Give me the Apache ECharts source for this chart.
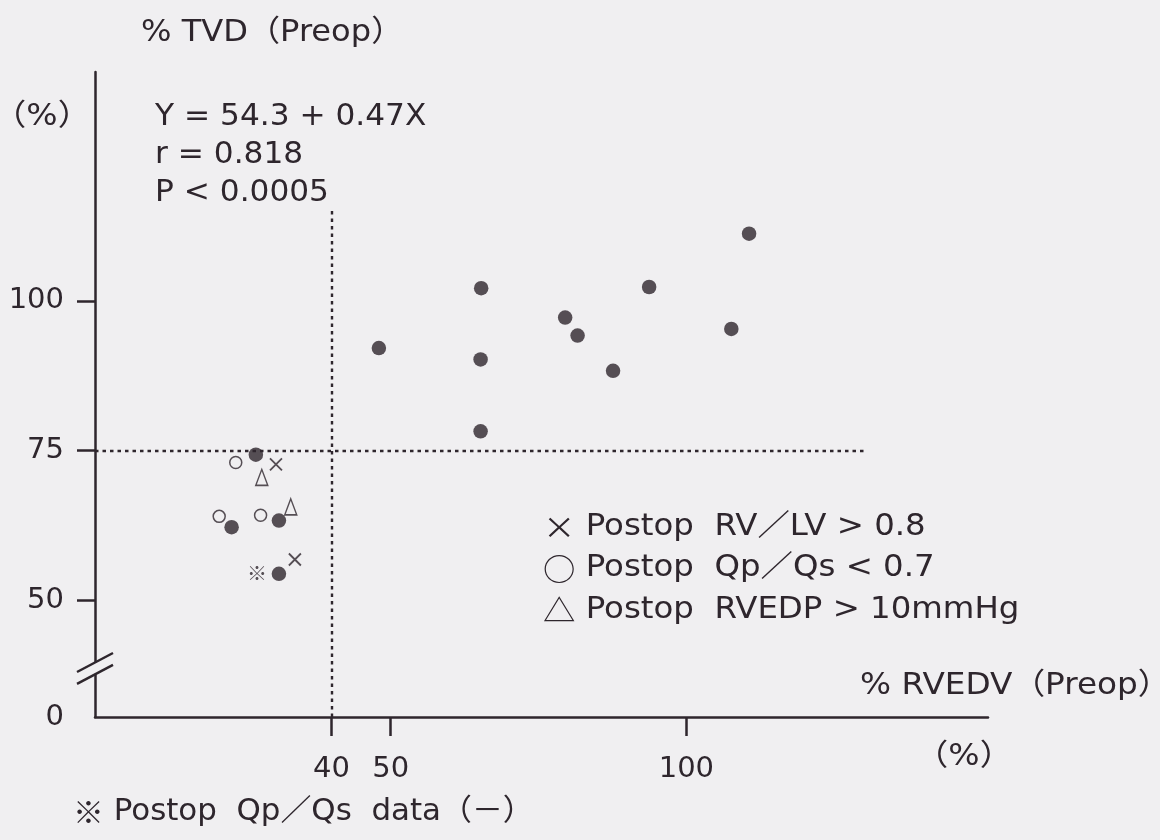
<!DOCTYPE html>
<html>
<head>
<meta charset="utf-8">
<script src="https://cdn.jsdelivr.net/npm/echarts@6/dist/echarts.min.js"></script>
<style>
  html, body { margin: 0; padding: 0; background: #f0eff1; }
  #chart { width: 1160px; height: 840px; }
</style>
</head>
<body>
<div id="chart"></div>
<script>
// Preoperative %RVEDV (x) against preoperative %TVD (y), both in percent.
const filledPts = [
  [48.0, 92.1], [65.3, 102.1], [65.2, 90.2], [65.2, 78.2], [79.5, 97.2],
  [81.6, 94.2], [87.6, 88.3], [93.7, 102.3], [110.6, 111.2], [107.6, 95.3],
  [27.2, 74.3], [23.1, 62.2], [31.1, 63.3], [31.1, 54.4]
];
const openCirclePts = [[23.8, 73.0], [21.0, 64.0], [28.0, 64.2]];   // Postop Qp/Qs < 0.7
const crossPts = [[30.6, 72.7], [33.8, 56.8]];                      // Postop RV/LV > 0.8
const trianglePts = [[28.2, 70.5], [33.1, 65.6]];                   // Postop RVEDP > 10mmHg
const noQpQsPts = [[27.4, 54.4]];                                   // no postop Qp/Qs data

const xTicks = [40, 50, 100];
const yTicks = [50, 75, 100];
const yFloorLabel = '0';

// dotted cut-off lines
const cutoffX = 40;
const cutoffY = 75;
const cutoffXTop = 115;
const cutoffYEnd = 130;

const regressionLines = ['Y = 54.3 + 0.47X', 'r = 0.818', 'P < 0.0005'];
const legendRows = [
  ['×', 'Postop  RV／LV > 0.8'],
  ['○', 'Postop  Qp／Qs < 0.7'],
  ['△', 'Postop  RVEDP > 10mmHg']
];
const footnote = ['※', 'Postop  Qp／Qs  data（－）'];
const yTitle = '% TVD（Preop）';
const yUnit = '（%）';
const xTitle = '% RVEDV（Preop）';
const xUnit = '（%）';

// axis extents (the y axis is broken below 50, its floor reads 0)
const X_MIN = 0, X_MAX = 151;
const Y_MIN = 30.5, Y_MAX = 138.2;

const INK = '#2e262d';
const BG = '#f0eff1';
const FONT = '"DejaVu Sans", "Noto Sans CJK JP", sans-serif';
const CJK = '"Noto Sans CJK JP", sans-serif';

const chart = echarts.init(document.getElementById('chart'), null, { renderer: 'canvas' });

// free-standing text, optionally widened a little to the typeset width
function textEl(text, x, y, size, align, sx) {
  return {
    type: 'text', x: x, y: y, z: 50, silent: true, scaleX: sx || 1,
    style: {
      text: text, fill: INK, align: align || 'left', verticalAlign: 'middle',
      font: size + 'px ' + FONT
    }
  };
}
function richRow(sym, text, x, y, size, sx) {
  return {
    type: 'text', x: x, y: y, z: 50, silent: true, scaleX: sx || 1,
    style: {
      text: '{s|' + sym + '} ' + text, fill: INK, align: 'left', verticalAlign: 'middle',
      font: size + 'px ' + FONT,
      rich: { s: { fontFamily: CJK, fontSize: size, fill: INK } }
    }
  };
}

const option = {
  backgroundColor: BG,
  animation: false,
  grid: { left: 95, top: 72, width: 893, height: 645, containLabel: false },
  xAxis: {
    type: 'value', min: X_MIN, max: X_MAX,
    splitLine: { show: false },
    axisLine: { show: true, onZero: false, lineStyle: { color: INK, width: 2.5 } },
    axisTick: { show: true, length: 19, customValues: xTicks, lineStyle: { color: INK, width: 2.5 } },
    axisLabel: {
      customValues: xTicks, margin: 38, fontSize: 29, fontFamily: FONT, color: INK
    }
  },
  yAxis: {
    type: 'value', min: Y_MIN, max: Y_MAX,
    splitLine: { show: false },
    axisLine: { show: true, onZero: false, lineStyle: { color: INK, width: 2.5 } },
    axisTick: { show: true, length: 18, customValues: yTicks, lineStyle: { color: INK, width: 2.5 } },
    axisLabel: {
      customValues: [Y_MIN].concat(yTicks), showMinLabel: true,
      formatter: function (v) { return Math.abs(v - Y_MIN) < 1e-6 ? yFloorLabel : String(v); },
      margin: 31, fontSize: 29, fontFamily: FONT, color: INK
    }
  },
  series: [
    {
      name: 'cutoffs', type: 'scatter', data: [], silent: true,
      markLine: {
        silent: true, symbol: 'none', animation: false,
        label: { show: false },
        lineStyle: { color: INK, width: 2.4, type: [3.5, 4] },
        emphasis: { disabled: true },
        data: [
          [{ coord: [X_MIN, cutoffY] }, { coord: [cutoffYEnd, cutoffY] }],
          [{ coord: [cutoffX, Y_MIN] }, { coord: [cutoffX, cutoffXTop] }]
        ]
      }
    },
    {
      name: 'all', type: 'scatter', data: filledPts, symbol: 'circle', symbolSize: 14.5,
      itemStyle: { color: INK }, z: 5
    },
    {
      name: 'Qp/Qs < 0.7', type: 'scatter', data: openCirclePts, symbol: 'circle', symbolSize: 12,
      itemStyle: { color: 'rgba(0,0,0,0)', borderColor: INK, borderWidth: 1.5 }, z: 4
    },
    {
      name: 'RV/LV > 0.8', type: 'scatter', data: crossPts,
      symbol: 'path://M0,0L12,12M12,0L0,12', symbolSize: 12,
      itemStyle: { color: 'rgba(0,0,0,0)', borderColor: INK, borderWidth: 1.8 }, z: 4
    },
    {
      name: 'RVEDP > 10mmHg', type: 'scatter', data: trianglePts,
      symbol: 'triangle', symbolSize: [12, 16],
      itemStyle: { color: 'rgba(0,0,0,0)', borderColor: INK, borderWidth: 1.5 }, z: 4
    },
    {
      name: 'no Qp/Qs', type: 'scatter', data: noQpQsPts, symbol: 'circle', symbolSize: 1,
      itemStyle: { color: 'rgba(0,0,0,0)' },
      label: {
        show: true, position: 'inside', formatter: footnote[0],
        fontSize: 20, fontFamily: CJK, color: INK
      }, z: 4
    }
  ]
};
chart.setOption(option);

// broken-axis mark on the y axis and free-standing texts
const gUp = chart.convertToPixel({ gridIndex: 0 }, [X_MIN, 39.6]);
const gLo = chart.convertToPixel({ gridIndex: 0 }, [X_MIN, 37.6]);
const slash = (c) => ({
  type: 'line', z: 60, silent: true,
  shape: { x1: c[0] - 18, y1: c[1] + 9.5, x2: c[0] + 18, y2: c[1] - 9.5 },
  style: { stroke: INK, lineWidth: 2.5 }
});

const graphics = [
  { type: 'rect', z: 55, silent: true,
    shape: { x: gUp[0] - 4, y: gUp[1], width: 8, height: gLo[1] - gUp[1] },
    style: { fill: BG } },
  slash(gUp), slash(gLo),
  textEl(yTitle, 141, 33, 30, 'left', 1.07),
  textEl(yUnit, 42, 117, 30, 'center', 1.1),
  textEl(xTitle, 860, 686, 30, 'left', 1.09),
  textEl(xUnit, 964, 757, 30, 'center', 1.1)
];
regressionLines.forEach((t, i) => graphics.push(textEl(t, 155, 117 + i * 38, 30, 'left', 1.04)));
legendRows.forEach((r, i) => graphics.push(richRow(r[0], r[1], 543, 527 + i * 41.5, 30, 1.08)));
graphics.push(richRow(footnote[0], footnote[1], 73, 812, 30, 1.03));

chart.setOption({ graphic: graphics });
</script>
</body>
</html>
